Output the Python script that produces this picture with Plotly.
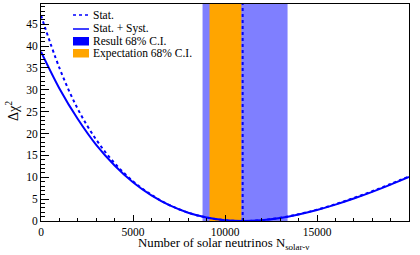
import plotly.graph_objects as go

# Number of solar neutrinos (x grid)
n_solar = [0, 1000, 2000, 3000, 4000, 5000, 6000, 7000, 8000, 9000, 10000, 10960,
           12000, 13000, 14000, 15000, 16000, 17000, 18000, 19000, 20000]
# Delta chi2, stat + syst (solid)
chi2_syst = [38.7, 30.3, 23.3, 17.4, 12.7, 8.86, 5.85, 3.56, 1.90, 0.80, 0.18, 0.0,
             0.19, 0.71, 1.50, 2.52, 3.74, 5.13, 6.65, 8.30, 10.05]
# Delta chi2, stat only (dotted)
chi2_stat = [47.0, 35.0, 25.6, 18.6, 13.2, 9.1, 6.0, 3.6, 1.9, 0.8, 0.18, 0.0,
             0.2, 0.73, 1.55, 2.6, 3.85, 5.25, 6.8, 8.45, 10.2]
best_fit = 10960
result_ci = [8780, 13400]
expect_ci = [9160, 10890]
x_ticks = [0, 5000, 10000, 15000]
x_tick_labels = ["0", "5000", "10000", "15000"]
y_max = 49.6
x_max = 20000

serif = "Liberation Serif"
fig = go.Figure()

# bands
fig.add_trace(go.Scatter(x=[result_ci[0], result_ci[1], result_ci[1], result_ci[0], result_ci[0]],
                         y=[0, 0, y_max, y_max, 0], fill="toself", mode="none",
                         fillcolor="rgba(0,0,255,0.5)", showlegend=False, hoverinfo="skip"))
fig.add_trace(go.Scatter(x=[expect_ci[0], expect_ci[1], expect_ci[1], expect_ci[0], expect_ci[0]],
                         y=[0, 0, y_max, y_max, 0], fill="toself", mode="none",
                         fillcolor="rgb(255,165,0)", showlegend=False, hoverinfo="skip"))
# best fit line
fig.add_trace(go.Scatter(x=[best_fit, best_fit], y=[0, y_max], mode="lines",
                         line=dict(color="blue", width=2, dash="dot"), showlegend=False))
# curves
fig.add_trace(go.Scatter(x=n_solar, y=chi2_stat, mode="lines", line_shape="spline",
                         line=dict(color="blue", width=2, dash="dot"), showlegend=False))
fig.add_trace(go.Scatter(x=n_solar, y=chi2_syst, mode="lines", line_shape="spline",
                         line=dict(color="blue", width=2), showlegend=False))

# plot-area pixel geometry
L, R, T, B = 41, 409, 4, 221
def px(p):
    return (p - L) / (R - L)
def py(p):
    return (B - p) / (B - T)

leg_rows = [15, 29, 41, 53]
leg_labels = ["Stat.", "Stat. + Syst.", "Result 68% C.I.", "Expectation 68% C.I."]
shapes = [
    dict(type="line", xref="paper", yref="paper", x0=px(73), x1=px(89), y0=py(15), y1=py(15),
         line=dict(color="blue", width=1.5, dash="dot")),
    dict(type="line", xref="paper", yref="paper", x0=px(73), x1=px(89), y0=py(29), y1=py(29),
         line=dict(color="blue", width=1.5)),
    dict(type="rect", xref="paper", yref="paper", x0=px(73), x1=px(89), y0=py(45.5), y1=py(37),
         fillcolor="blue", line=dict(width=0)),
    dict(type="rect", xref="paper", yref="paper", x0=px(73), x1=px(89), y0=py(57.5), y1=py(49),
         fillcolor="rgb(255,165,0)", line=dict(width=0)),
]
annotations = []
for r, lab in zip(leg_rows, leg_labels):
    annotations.append(dict(x=px(91), y=py(r), xref="paper", yref="paper", text=lab, showarrow=False,
                            xanchor="left", yanchor="middle", font=dict(family=serif, size=11.5, color="black")))
annotations.append(dict(x=px(12), y=py(111), xref="paper", yref="paper", text="Δχ<sup>2</sup>", showarrow=False,
                        textangle=-90, xanchor="center", yanchor="middle",
                        font=dict(family=serif, size=14, color="black")))
annotations.append(dict(x=px(223), y=py(234), xref="paper", yref="paper",
                        text="Number of solar neutrinos N<sub>solar-ν</sub>", showarrow=False,
                        xanchor="center", yanchor="top", font=dict(family=serif, size=12.8, color="black")))

fig.update_layout(
    width=420, height=255, margin=dict(l=L, r=420 - R, t=T, b=255 - B),
    paper_bgcolor="white", plot_bgcolor="white",
    shapes=shapes, annotations=annotations, showlegend=False,
    font=dict(family=serif, size=11.5, color="black"),
)
fig.update_xaxes(range=[0, x_max], tickvals=x_ticks, ticktext=x_tick_labels, ticks="inside", ticklen=6,
                 tickcolor="black", showgrid=False, zeroline=False, showline=True, linecolor="black",
                 linewidth=1, mirror=True, automargin=False,
                 minor=dict(dtick=1000, ticks="inside", ticklen=3, tickcolor="black", showgrid=False),
                 tickfont=dict(family=serif, size=11.5))
fig.update_yaxes(range=[0, y_max], dtick=5, ticks="inside", ticklen=8, tickcolor="black",
                 showgrid=False, zeroline=False, showline=True, linecolor="black", linewidth=1, mirror=True,
                 automargin=False,
                 minor=dict(dtick=1, ticks="inside", ticklen=4, tickcolor="black", showgrid=False),
                 tickfont=dict(family=serif, size=11.5))

fig.write_html("out.html", config={"displayModeBar": False},
               post_script="document.body.style.margin='0';document.body.style.overflow='hidden';")
